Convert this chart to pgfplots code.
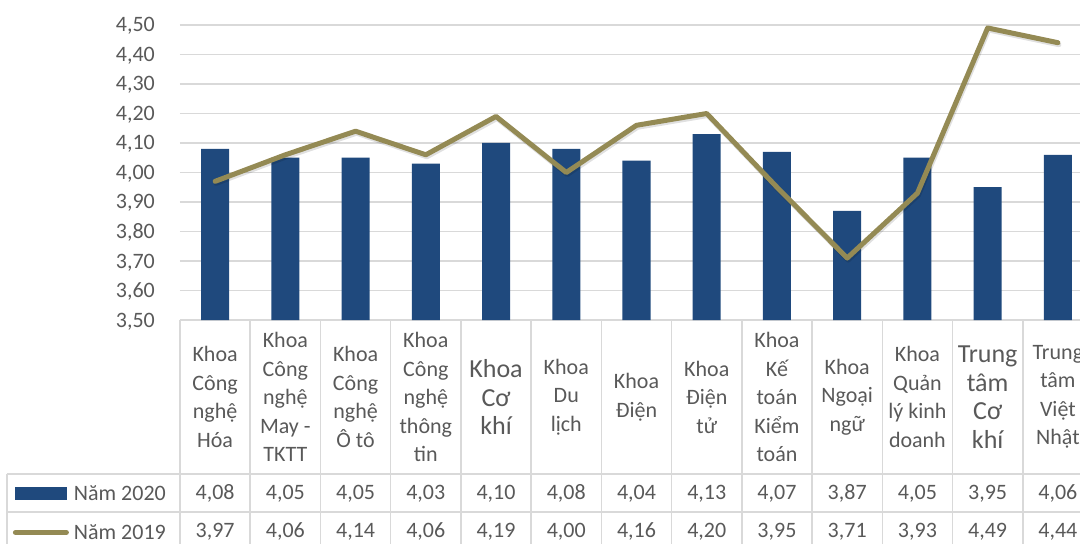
\documentclass[border=0pt]{standalone}
\usepackage{pgfplots}
\usepackage{pgfplotstable}
\pgfplotsset{compat=1.18}
\usepackage{fontspec}
\setmainfont{Carlito}

\definecolor{barnavy}{HTML}{1F497D}
\definecolor{lineolive}{HTML}{948A54}
\definecolor{gridgray}{HTML}{D9D9D9}
\definecolor{textgray}{HTML}{595959}

% Điểm trung bình theo đơn vị
\pgfplotstableread{
i  v2020 v2019
0  4.08  3.97
1  4.05  4.06
2  4.05  4.14
3  4.03  4.06
4  4.10  4.19
5  4.08  4.00
6  4.04  4.16
7  4.13  4.20
8  4.07  3.95
9  3.87  3.71
10 4.05  3.93
11 3.95  4.49
12 4.06  4.44
}\datatable

\newcommand{\lf}{\fontsize{26}{28.5}\selectfont}

\begin{document}
\begin{tikzpicture}[font=\fontsize{22}{28.5}\selectfont]
\begin{axis}[
  scale only axis,
  width=913pt, height=295pt,
  xmin=-0.5, xmax=12.5,
  ymin=3.5, ymax=4.5,
  clip=false,
  axis line style={draw=none},
  tick style={draw=none},
  ymajorgrids,
  grid style={color=gridgray, line width=1.5pt},
  ytick={3.5,3.6,3.7,3.8,3.9,4.0,4.1,4.2,4.3,4.4,4.5},
  yticklabel style={anchor=base east, inner sep=0pt, xshift=-25pt, yshift=-7pt, text=textgray,
    /pgf/number format/.cd, fixed, fixed zerofill, precision=2, use comma, assume math mode=true},
  xtick={0,...,12},
  xticklabels={
    {Khoa\\Công\\nghệ\\Hóa},
    {Khoa\\Công\\nghệ\\May -\\TKTT},
    {Khoa\\Công\\nghệ\\Ô tô},
    {Khoa\\Công\\nghệ\\thông\\tin},
    {\lf Khoa\\\lf Cơ\\\lf khí},
    {Khoa\\Du\\lịch},
    {Khoa\\Điện},
    {Khoa\\Điện\\tử},
    {Khoa\\Kế\\toán\\Kiểm\\toán},
    {Khoa\\Ngoại\\ngữ},
    {Khoa\\Quản\\lý kinh\\doanh},
    {\lf Trung\\\lf tâm\\\lf Cơ\\\lf khí},
    {Trung\\tâm\\Việt\\Nhật}},
  xticklabel style={anchor=center, yshift=-77pt, align=center, inner sep=0pt, text=textgray},
  legend style={draw=none, fill=none, inner sep=0pt, outer sep=0pt,
    at={(-0.183,-0.649)}, anchor=west, text=textgray,
    font=\fontsize{22}{28.5}\selectfont,
    row sep=14pt, column sep=3pt},
  legend cell align=left,
]
  % cột năm 2020
  \addplot[ybar, bar width=28pt, fill=barnavy, draw=none,
    legend image code/.code={
      \path[draw=none, fill=none] (0pt,-8pt) rectangle (56pt,14pt);
      \fill[barnavy] (2pt,-6pt) rectangle (54pt,7pt);}]
    table[x=i, y=v2020] {\datatable};
  \addlegendentry{Năm 2020}
  % bóng mờ của đường năm 2019
  \addplot[forget plot, black, opacity=0.12, line width=5pt, line join=round, line cap=round,
    mark=none, transform canvas={xshift=1pt, yshift=-2pt}]
    table[x=i, y=v2019] {\datatable};
  % đường năm 2019
  \addplot[lineolive, line width=5pt, line join=round, line cap=round, mark=none,
    legend image code/.code={
      \path[draw=none, fill=none] (0pt,-8pt) rectangle (56pt,14pt);
      \draw[lineolive, line width=5pt, line cap=round] (2.5pt,0pt) -- (53.5pt,0pt);}]
    table[x=i, y=v2019] {\datatable};
  \addlegendentry{Năm 2019}
  % giá trị trong bảng số liệu
  \addplot[forget plot, draw=none, mark=none, nodes near coords, point meta=explicit,
    nodes near coords style={anchor=base, yshift=-7pt, inner sep=0pt, text=textgray,
      /pgf/number format/.cd, fixed, fixed zerofill, precision=2, use comma, assume math mode=true}]
    table[x=i, y expr=2.9136, meta=v2020] {\datatable};
  \addplot[forget plot, draw=none, mark=none, nodes near coords, point meta=explicit,
    nodes near coords style={anchor=base, yshift=-7pt, inner sep=0pt, text=textgray,
      /pgf/number format/.cd, fixed, fixed zerofill, precision=2, use comma, assume math mode=true}]
    table[x=i, y expr=2.7881, meta=v2019] {\datatable};
\end{axis}
% đường kẻ của bảng số liệu
\begin{scope}[gridgray, line width=1.5pt]
  \foreach \k in {0,...,13} \draw (\k*70.23pt,0pt) -- (\k*70.23pt,-230pt);
  \draw (-173pt,-154pt) -- (930pt,-154pt);
  \draw (-173pt,-192pt) -- (930pt,-192pt);
  \draw (-173pt,-154pt) -- (-173pt,-230pt);
\end{scope}
\pgfresetboundingbox
\path[use as bounding box] (-180pt,-224pt) rectangle (900pt,320pt);
\end{tikzpicture}
\end{document}
